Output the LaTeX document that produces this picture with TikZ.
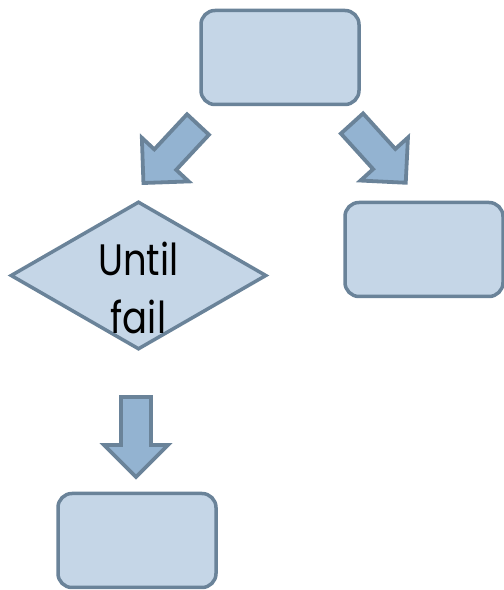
\documentclass[tikz,border=0pt]{standalone}
\usepackage{fontspec}
\setmainfont{Poppins}[FakeStretch=0.84]
\usetikzlibrary{shapes.geometric}
\definecolor{boxfill}{HTML}{C5D6E7}
\definecolor{edgecol}{HTML}{6A8399}
\definecolor{arrfill}{HTML}{93B3D1}
\begin{document}
\begin{tikzpicture}[x=1pt,y=1pt,
  roundbox/.style={draw=edgecol,fill=boxfill,line width=3.5pt,rounded corners=14pt,
    minimum width=158pt,minimum height=94pt,inner sep=0pt},
  decision/.style={draw=edgecol,fill=boxfill,line width=3.5pt,diamond,
    minimum width=256pt,minimum height=148pt,inner sep=0pt,
    font=\fontsize{44}{58}\selectfont},
  blockarrow/.pic={\draw[draw=edgecol,fill=arrfill,line width=3.8pt,line join=miter]
    (0,15) -- (48,15) -- (48,32) -- (80,0) -- (48,-32) -- (48,-15) -- (0,-15) -- cycle;}]
\useasboundingbox (0,0) rectangle (504,590);
\node[roundbox] (top) at (280,532.5) {};
\node[roundbox] (right) at (424,340.5) {};
\node[roundbox] (bottom) at (137,49.5) {};
\node[decision] (dec) at (138.5,314.5) {\smash{\raisebox{0pt}{\begin{tabular}[t]{@{}c@{}}Until\\fail\end{tabular}}}};
\pic[rotate=227] (a1) at (198,465.5) {blockarrow};
\pic[rotate=-47.8] (a2) at (352,466.5) {blockarrow};
\pic[rotate=-90] (a3) at (136,193) {blockarrow};
\end{tikzpicture}
\end{document}
